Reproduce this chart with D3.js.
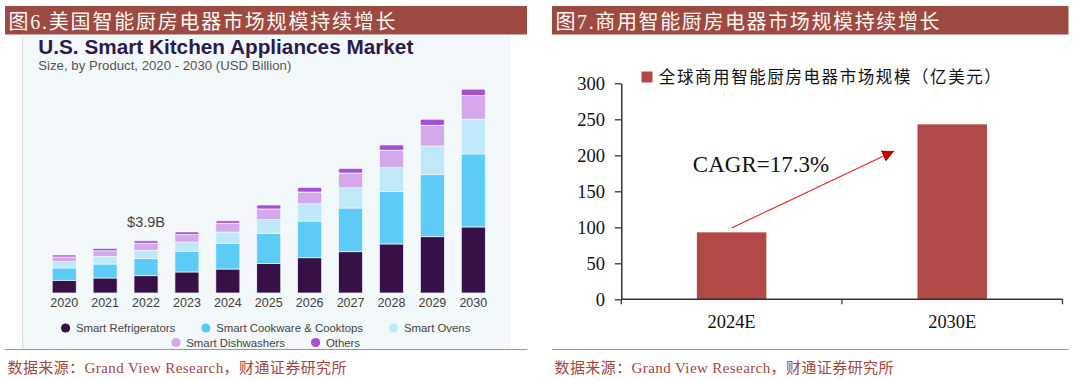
<!DOCTYPE html>
<html>
<head>
<meta charset="utf-8">
<script src="https://cdn.jsdelivr.net/npm/d3@7"></script>
<style>
  html, body { margin: 0; padding: 0; background: #ffffff; }
  svg { display: block; }
</style>
</head>
<body>
<svg id="chart" width="1080" height="380"></svg>
<script>
// ---------------- DATA ----------------
const years = ["2020","2021","2022","2023","2024","2025","2026","2027","2028","2029","2030"];
const refrigerators = [0.95,1.12,1.29,1.57,1.79,2.19,2.63,3.08,3.66,4.20,4.93];
const cookware      = [0.92,1.04,1.27,1.54,1.89,2.27,2.74,3.26,3.93,4.63,5.45];
const ovens         = [0.47,0.57,0.63,0.69,0.87,1.01,1.29,1.51,1.76,2.14,2.59];
const dishwashers   = [0.35,0.42,0.52,0.57,0.65,0.80,0.87,1.10,1.30,1.54,1.76];
const others        = [0.15,0.18,0.19,0.19,0.19,0.30,0.34,0.35,0.40,0.45,0.48];
const seriesNames = ["Smart Refrigerators","Smart Cookware & Cooktops","Smart Ovens","Smart Dishwashers","Others"];
const calloutYear = "2022";
const calloutText = "$3.9B";

const rightCategories = ["2024E","2030E"];
const rightValues = [93, 243];
const rightTicks = [0,50,100,150,200,250,300];
const rightLegend = "全球商用智能厨房电器市场规模（亿美元）";
const cagrText = "CAGR=17.3%";
const cagrFromValue = 99;
const cagrToValue = 206;

const leftHeader = "图6.美国智能厨房电器市场规模持续增长";
const rightHeader = "图7.商用智能厨房电器市场规模持续增长";
const leftTitle = "U.S. Smart Kitchen Appliances Market";
const leftSubtitle = "Size, by Product, 2020 - 2030 (USD Billion)";
const footerText = "数据来源：Grand View Research，财通证券研究所";

// ---------------- STYLE ----------------
const seriesColors = ["#371047","#5ccbf5","#bfe9f9","#d4a8ea","#a54fd8"];
const headerColor = "#9d4a43";
const footerColor = "#a0483f";
const barRed = "#b14a46";
const serifCJK = "'Liberation Serif','Times New Roman','Noto Sans CJK SC',serif";
const sans = "'Liberation Sans',Arial,Helvetica,sans-serif";

const svg = d3.select("#chart");

// ---------- headers & footers ----------
function panelFrame(x0, x1, header, headerLen) {
  svg.append("rect").attr("x", x0).attr("y", 6).attr("width", x1 - x0).attr("height", 28.5)
    .attr("fill", headerColor);
  svg.append("text").attr("x", x0 + 3.5).attr("y", 28.5)
    .attr("font-family", serifCJK).attr("font-size", 20)
    .attr("fill", "#fff7f2")
    .attr("textLength", headerLen).attr("lengthAdjust", "spacing")
    .text(header);
  svg.append("line").attr("x1", x0).attr("x2", x1).attr("y1", 349.5).attr("y2", 349.5)
    .attr("stroke", "#c08a80").attr("stroke-width", 1);
  svg.append("text").attr("x", x0 + 2.5).attr("y", 373)
    .attr("font-family", serifCJK).attr("font-size", 15)
    .attr("fill", footerColor)
    .attr("textLength", 339).attr("lengthAdjust", "spacing")
    .text(footerText);
}
panelFrame(5, 527, leftHeader, 387);
panelFrame(552, 1068.5, rightHeader, 384);

// ---------- LEFT PANEL ----------
const L = svg.append("g");
L.append("rect").attr("x", 22.5).attr("y", 36).attr("width", 488.5).attr("height", 313)
  .attr("fill", "#f3f8fb");
L.append("line").attr("x1", 22.5).attr("x2", 22.5).attr("y1", 36).attr("y2", 349)
  .attr("stroke", "#dfe3e8").attr("stroke-width", 1.2);

L.append("text").attr("x", 38.3).attr("y", 53.5)
  .attr("font-family", sans).attr("font-weight", "bold").attr("font-size", 20.5)
  .attr("fill", "#2c1a4c")
  .attr("textLength", 375).attr("lengthAdjust", "spacingAndGlyphs")
  .text(leftTitle);
L.append("text").attr("x", 38.3).attr("y", 69.5)
  .attr("font-family", sans).attr("font-size", 13)
  .attr("fill", "#555")
  .attr("textLength", 253).attr("lengthAdjust", "spacingAndGlyphs")
  .text(leftSubtitle);

const xL = d3.scaleBand().domain(years).range([43.75, 493.75]).paddingInner(0.413).paddingOuter(0.2065);
const yL = d3.scaleLinear().domain([0, 16]).range([293, 293 - 16 * 13.4]);

const rows = years.map((y, i) => ({
  year: y, s0: refrigerators[i], s1: cookware[i], s2: ovens[i], s3: dishwashers[i], s4: others[i]
}));
const keys = ["s0","s1","s2","s3","s4"];
const stacked = d3.stack().keys(keys)(rows);

stacked.forEach((layer, li) => {
  L.append("g").selectAll("rect").data(layer).join("rect")
    .attr("x", d => xL(d.data.year))
    .attr("width", xL.bandwidth())
    .attr("y", d => yL(d[1]))
    .attr("height", d => yL(d[0]) - yL(d[1]))
    .attr("fill", seriesColors[li])
    .attr("stroke", "#f3f8fb").attr("stroke-width", 0.7)
    .attr("rx", li === 4 ? 1.5 : 0);
});

// x axis labels (no line)
const axL = d3.axisBottom(xL).tickSize(0).tickPadding(5);
const gAxL = L.append("g").attr("transform", "translate(0,293)").call(axL);
gAxL.select(".domain").remove();
gAxL.selectAll("text").attr("font-family", sans).attr("font-size", 12.5).attr("fill", "#404040");

// callout
const ci = years.indexOf(calloutYear);
const cTotal = refrigerators[ci] + cookware[ci] + ovens[ci] + dishwashers[ci] + others[ci];
L.append("text").attr("x", xL(calloutYear) + xL.bandwidth() / 2).attr("y", yL(cTotal) - 13.5)
  .attr("text-anchor", "middle").attr("font-family", sans).attr("font-size", 14.5)
  .attr("fill", "#444").text(calloutText);

// legend
function legendRow(items, cy, centerX) {
  const g = L.append("g");
  const parts = [];
  let x = 0;
  items.forEach(idx => {
    const t = g.append("text").attr("y", cy + 4).attr("font-family", sans)
      .attr("font-size", 11.4).attr("fill", "#444").text(seriesNames[idx]);
    const w = t.node().getComputedTextLength();
    parts.push({ idx, t, x, w });
    x += 4.6 + 10.3 + w + 26;
  });
  const total = x - 26 + 4.6;
  const off = centerX - total / 2;
  parts.forEach(p => {
    g.append("circle").attr("cx", off + p.x + 4.6).attr("cy", cy).attr("r", 4.6)
      .attr("fill", seriesColors[p.idx]);
    p.t.attr("x", off + p.x + 4.6 + 10.3);
  });
}
legendRow([0,1,2], 328, 268);
legendRow([3,4], 342.5, 268);

// ---------- RIGHT PANEL ----------
const R = svg.append("g");
const x0R = 621.3, x1R = 1062.5;
const xR = d3.scaleBand().domain(rightCategories).range([x0R, x1R]).paddingInner(0.685).paddingOuter(0.3425);
const yR = d3.scaleLinear().domain([0, 300]).range([299.3, 83.3]);

R.selectAll("rect.bar").data(rightCategories).join("rect").attr("class", "bar")
  .attr("x", d => xR(d))
  .attr("width", xR.bandwidth())
  .attr("y", (d, i) => yR(rightValues[i]))
  .attr("height", (d, i) => yR(0) - yR(rightValues[i]))
  .attr("fill", barRed);

const axY = d3.axisLeft(yR).tickValues(rightTicks).tickSize(6.5).tickPadding(9.8).tickSizeOuter(0);
const gY = R.append("g").attr("transform", `translate(${x0R},0)`).call(axY);
gY.select(".domain").attr("stroke", "#333").attr("stroke-width", 1.5);
gY.selectAll(".tick line").attr("stroke", "#333").attr("stroke-width", 1.3);
gY.selectAll("text").attr("font-family", serifCJK).attr("font-size", 18.5).attr("fill", "#111");

// x axis with ticks at category boundaries
const step = xR.step();
const boundaries = d3.range(rightCategories.length + 1).map(i => x0R + i * step);
R.append("line").attr("x1", x0R).attr("x2", x1R).attr("y1", yR(0)).attr("y2", yR(0))
  .attr("stroke", "#333").attr("stroke-width", 1.5);
R.selectAll("line.bt").data(boundaries).join("line").attr("class", "bt")
  .attr("x1", d => d).attr("x2", d => d).attr("y1", yR(0)).attr("y2", yR(0) + 5)
  .attr("stroke", "#333").attr("stroke-width", 1.3);
R.selectAll("text.xl").data(rightCategories).join("text").attr("class", "xl")
  .attr("x", d => xR(d) + xR.bandwidth() / 2)
  .attr("y", 327.5)
  .attr("text-anchor", "middle").attr("font-family", serifCJK).attr("font-size", 18.4)
  .attr("fill", "#111").text(d => d);

// legend
R.append("rect").attr("x", 641.5).attr("y", 71.5).attr("width", 11).attr("height", 11).attr("fill", barRed);
R.append("text").attr("x", 658.8).attr("y", 82.5)
  .attr("font-family", serifCJK).attr("font-size", 16.5).attr("fill", "#111")
  .attr("textLength", 342).attr("lengthAdjust", "spacing")
  .text(rightLegend);

// CAGR annotation
const defs = svg.append("defs");
defs.append("marker").attr("id", "arr").attr("markerUnits", "userSpaceOnUse")
  .attr("markerWidth", 14).attr("markerHeight", 14).attr("refX", 12).attr("refY", 6)
  .attr("orient", "auto")
  .append("path").attr("d", "M0,0 L12,6 L0,12 Z").attr("fill", "#c00000");

const ax0 = xR(rightCategories[0]) + xR.bandwidth() / 2;
const ax1 = xR(rightCategories[1]) + xR.bandwidth() / 2 - 58;
R.append("line").attr("x1", ax0).attr("y1", yR(cagrFromValue))
  .attr("x2", ax1).attr("y2", yR(cagrToValue))
  .attr("stroke", "#e0282c").attr("stroke-width", 1.2)
  .attr("marker-end", "url(#arr)");
R.append("text").attr("x", xR(rightCategories[0]) - 4).attr("y", yR(177))
  .attr("font-family", serifCJK).attr("font-size", 23).attr("fill", "#111")
  .text(cagrText);
</script>
</body>
</html>
